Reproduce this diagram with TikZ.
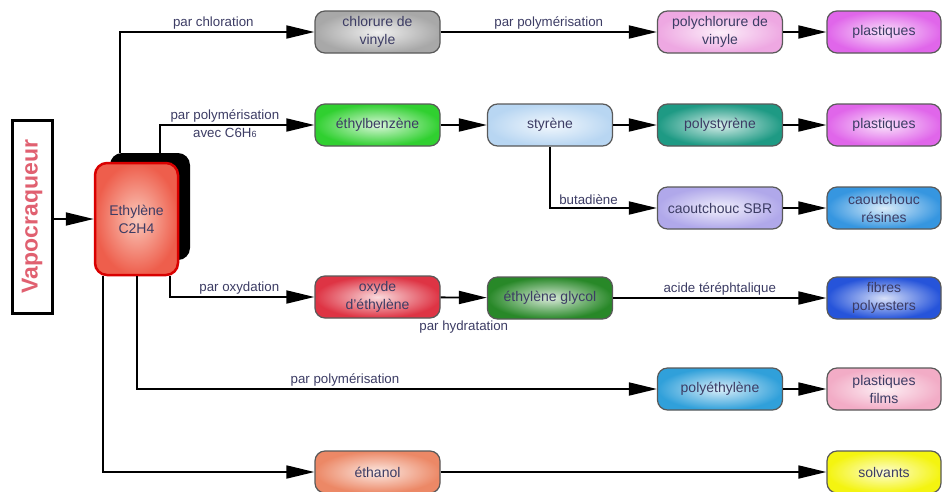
\documentclass[tikz,border=0pt]{standalone}
\usepackage{fontspec}
\setmainfont{Liberation Sans}
\usetikzlibrary{arrows.meta}
\definecolor{txt}{HTML}{3C3C64}
\definecolor{vapo}{HTML}{E06070}
\definecolor{cgris}{HTML}{A8A8A8}
\definecolor{cpvc}{HTML}{EEA8E2}
\definecolor{cplast}{HTML}{E066EA}
\definecolor{cvert}{HTML}{30D030}
\definecolor{csty}{HTML}{B8D6F2}
\definecolor{cps}{HTML}{1E9A84}
\definecolor{csbr}{HTML}{B0A8EA}
\definecolor{cres}{HTML}{3696E0}
\definecolor{coxy}{HTML}{DE3444}
\definecolor{cgly}{HTML}{288828}
\definecolor{cfib}{HTML}{2654DA}
\definecolor{cpe}{HTML}{30A0DA}
\definecolor{cfilm}{HTML}{F2ACC6}
\definecolor{ceth}{HTML}{EC8866}
\definecolor{csolv}{HTML}{F4F410}
\definecolor{cethy}{HTML}{EE5E4C}
\definecolor{cethyin}{HTML}{FAC8BA}
\begin{document}
\begin{tikzpicture}[x=1pt,y=-1pt,
	box/.style={draw=black!65,line width=1.2pt,rounded corners=10pt,minimum width=125pt,minimum height=42pt,
		align=center,text=txt,font=\fontsize{14}{18}\selectfont,inner color=#1!18,outer color=#1},
	endbox/.style={box=#1,minimum width=114pt},
	flow/.style={line width=1.8pt,-{Triangle[length=28pt,width=13pt]}},
	lbl/.style={text=txt,font=\fontsize{13.3}{15}\selectfont,inner sep=2pt}]
	\useasboundingbox (0,0) rectangle (943,491);
	%
	\node[draw,line width=3pt,minimum width=40pt,minimum height=193pt] (vap) at (32,216.5) {};
	\node[rotate=90,text=vapo,font=\fontsize{23}{23}\selectfont\bfseries] at (vap) {Vapocraqueur};
	\node[fill=black,rounded corners=12pt,minimum width=80pt,minimum height=107pt] (eths) at (150,206.5) {};
	\node[draw=red!85!black,line width=2.5pt,rounded corners=12pt,minimum width=83pt,minimum height=112pt,
		inner color=cethyin,outer color=cethy,align=center,text=txt,
		font=\fontsize{14}{18}\selectfont] (eth) at (136.5,219) {Ethylène\\C2H4};
	%
	\node[box=cgris]     (cv)   at (377.5,32)  {chlorure de\\vinyle};
	\node[box=cpvc]      (pvc)  at (720,32)    {polychlorure de\\vinyle};
	\node[endbox=cplast] (pl1)  at (884,32)    {plastiques};
	\node[box=cvert]     (eb)   at (377.5,125) {éthylbenzène};
	\node[box=csty]      (sty)  at (550,125)   {styrène};
	\node[box=cps]       (ps)   at (720,125)   {polystyrène};
	\node[endbox=cplast] (pl2)  at (884,125)   {plastiques};
	\node[box=csbr]      (sbr)  at (720,208)   {caoutchouc SBR};
	\node[endbox=cres]   (cr)   at (884,208)   {caoutchouc\\résines};
	\node[box=coxy]      (ox)   at (377.5,297) {oxyde\\d'éthylène};
	\node[box=cgly]      (eg)   at (550,298)   {éthylène glycol};
	\node[endbox=cfib]   (fp)   at (884,298)   {fibres\\polyesters};
	\node[box=cpe]       (pe)   at (720,389)   {polyéthylène};
	\node[endbox=cfilm]  (pf)   at (884,389)   {plastiques\\films};
	\node[box=ceth]      (etoh) at (377.5,472) {éthanol};
	\node[endbox=csolv]  (solv) at (884,472)   {solvants};
	%
	\coordinate (x1) at (120,0);
	\coordinate (x2) at (160,0);
	\coordinate (x3) at (170,0);
	\coordinate (x4) at (137,0);
	\coordinate (x5) at (103,0);
	%
	\draw[flow] (vap.east |- eth) -- (eth);
	\draw[flow] (x1 |- eths.north) |- node[lbl,pos=0.74,above] {par chloration} (cv);
	\draw[flow] (x2 |- eths.north) |- node[lbl,pos=0.71,above] {par polymérisation}
		node[lbl,pos=0.71,below] {avec C6H{\fontsize{9}{9}\selectfont 6}} (eb);
	\draw[flow] (x3 |- eth.south) |- node[lbl,pos=0.74,above] {par oxydation} (ox);
	\draw[flow] (x4 |- eth.south) |- node[lbl,pos=0.7,above] {par polymérisation} (pe);
	\draw[flow] (x5 |- eth.south) |- (etoh);
	%
	\draw[flow] (cv) -- node[lbl,above] {par polymérisation} (pvc);
	\draw[flow] (pvc) -- (pl1);
	\draw[flow] (eb) -- (sty);
	\draw[flow] (sty) -- (ps);
	\draw[flow] (ps) -- (pl2);
	\draw[flow] (sty.south) |- node[lbl,pos=0.68,above] {butadiène} (sbr);
	\draw[flow] (sbr) -- (cr);
	\draw[flow] (ox) -- node[lbl,below=20pt] {par hydratation} (eg);
	\draw[flow] (eg) -- node[lbl,above] {acide téréphtalique} (fp);
	\draw[flow] (pe) -- (pf);
	\draw[flow] (etoh) -- (solv);
\end{tikzpicture}
\end{document}
